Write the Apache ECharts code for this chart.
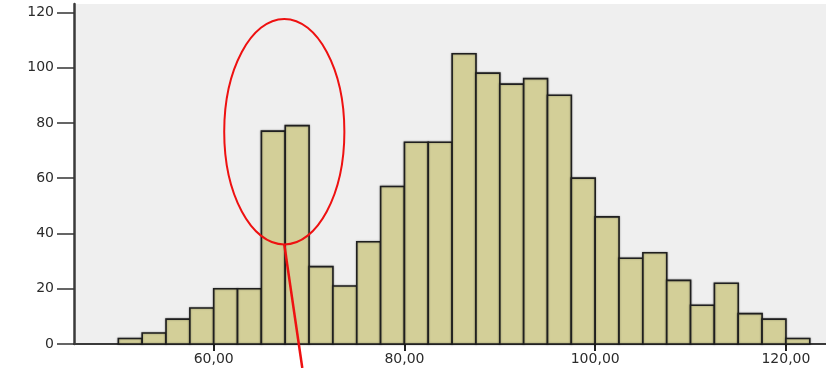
<!DOCTYPE html>
<html>
<head>
<meta charset="utf-8">
<script src="https://cdn.jsdelivr.net/npm/echarts@6/dist/echarts.min.js"></script>
<style>
  html, body { margin: 0; padding: 0; background: #ffffff; }
  #chart { width: 826px; height: 368px; }
</style>
</head>
<body>
<div id="chart"></div>
<script>
// Histogram bins: left edge of each bin and its frequency
const binWidth = 2.5;
const binStarts = [50, 52.5, 55, 57.5, 60, 62.5, 65, 67.5, 70, 72.5, 75, 77.5, 80, 82.5,
  85, 87.5, 90, 92.5, 95, 97.5, 100, 102.5, 105, 107.5, 110, 112.5, 115, 117.5, 120];
const counts = [2, 4, 9, 13, 20, 20, 77, 79, 28, 21, 37, 57, 73, 73,
  105, 98, 94, 96, 90, 60, 46, 31, 33, 23, 14, 22, 11, 9, 2];

// Axis tick values
const xTicks = [60, 80, 100, 120];
const yTicks = [0, 20, 40, 60, 80, 100, 120];

// Highlight ring around the 65–70 peak (data units)
const ring = { cx: 67.4, cy: 76.8, rx: 6.3, ry: 40.8 };

const chart = echarts.init(document.getElementById('chart'), null, { renderer: 'canvas' });

const labelFont = { fontFamily: 'DejaVu Sans', fontSize: 14, color: '#2b2b2b' };

chart.setOption({
  animation: false,
  backgroundColor: '#ffffff',
  grid: {
    left: 74, top: 4, right: 0, bottom: 24,
    show: true, backgroundColor: '#efefef', borderWidth: 0
  },
  xAxis: {
    type: 'value',
    min: 45.35, max: 124.2,
    splitLine: { show: false },
    axisLine: { show: true, lineStyle: { color: '#3a3a3a', width: 2 } },
    axisTick: { show: true, customValues: xTicks, length: 7, lineStyle: { color: '#222', width: 2 } },
    axisLabel: Object.assign({
      customValues: xTicks, margin: 8,
      formatter: v => v.toFixed(2).replace('.', ',')
    }, labelFont)
  },
  yAxis: {
    type: 'value',
    min: 0, max: 123,
    splitLine: { show: false },
    axisLine: { show: true, lineStyle: { color: '#3a3a3a', width: 2.5 } },
    axisTick: { show: true, customValues: yTicks, length: 17, lineStyle: { color: '#333', width: 1.5 } },
    axisLabel: Object.assign({ customValues: yTicks, margin: 20 }, labelFont)
  },
  series: [{
    type: 'custom',
    data: binStarts.map((s, i) => [s, counts[i]]),
    encode: { x: 0, y: 1 },
    renderItem: function (params, api) {
      const start = api.value(0);
      const count = api.value(1);
      const topLeft = api.coord([start, count]);
      const bottomRight = api.coord([start + binWidth, 0]);
      return {
        type: 'rect',
        shape: {
          x: topLeft[0], y: topLeft[1],
          width: bottomRight[0] - topLeft[0],
          height: bottomRight[1] - topLeft[1]
        },
        style: {
          fill: '#d3cf98',
          stroke: '#1f1f1f',
          lineWidth: 1.6,
          shadowBlur: 2,
          shadowColor: 'rgba(0,0,0,0.35)'
        }
      };
    }
  }]
});

// Red annotation ring and pointer line, placed from data coordinates
const c = chart.convertToPixel({ gridIndex: 0 }, [ring.cx, ring.cy]);
const e = chart.convertToPixel({ gridIndex: 0 }, [ring.cx + ring.rx, ring.cy - ring.ry]);
const rxPx = e[0] - c[0];
const ryPx = e[1] - c[1];
const bottomPt = [c[0], c[1] + ryPx];
chart.setOption({
  graphic: [
    {
      type: 'ellipse',
      shape: { cx: c[0], cy: c[1], rx: rxPx, ry: ryPx },
      style: { fill: 'none', stroke: '#ee1111', lineWidth: 2 },
      z: 100
    },
    {
      type: 'line',
      shape: { x1: bottomPt[0], y1: bottomPt[1], x2: bottomPt[0] + 18, y2: 368 },
      style: { stroke: '#ee1111', lineWidth: 2.5 },
      z: 100
    }
  ]
});
</script>
</body>
</html>
